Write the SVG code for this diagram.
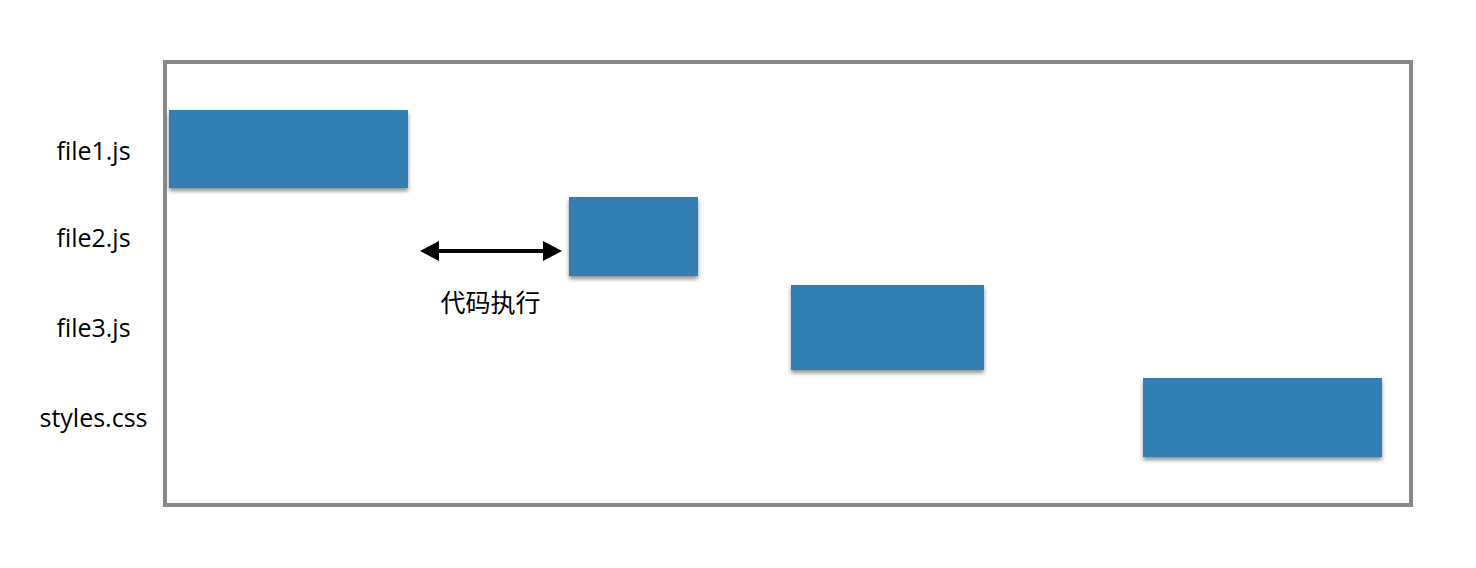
<svg xmlns="http://www.w3.org/2000/svg" width="1476" height="568" viewBox="0 0 1476 568">
<style>
.lbl{font-family:"Open Sans","Noto Sans","Noto Sans CJK SC",sans-serif;font-size:25px;fill:#000;text-anchor:middle}
.bar{fill:#337fb4;filter:url(#sh)}
</style>
<defs>
<filter id="sh" x="-10%" y="-20%" width="120%" height="150%">
<feGaussianBlur in="SourceAlpha" stdDeviation="2"/>
<feOffset dx="0" dy="3" result="b"/>
<feComponentTransfer><feFuncA type="linear" slope="0.45"/></feComponentTransfer>
<feMerge><feMergeNode/><feMergeNode in="SourceGraphic"/></feMerge>
</filter>
</defs>
<rect width="1476" height="568" fill="#fff"/>
<g id="frame"><rect x="165" y="62" width="1246" height="443" fill="none" stroke="#88898d" stroke-width="4"/></g>
<g id="labels">
<text class="lbl" x="93.5" y="160">file1.js</text>
<text class="lbl" x="93.5" y="247">file2.js</text>
<text class="lbl" x="93.5" y="337">file3.js</text>
<text class="lbl" x="93.5" y="427">styles.css</text>
</g>
<g id="file1"><rect class="bar" x="169" y="110" width="239" height="78"/></g>
<g id="file2"><rect class="bar" x="569" y="197" width="129" height="79"/></g>
<g id="file3"><rect class="bar" x="791" y="285" width="193" height="85"/></g>
<g id="styles"><rect class="bar" x="1143" y="378" width="239" height="79"/></g>
<g id="connectors">
<line x1="436" y1="251" x2="546" y2="251" stroke="#000" stroke-width="4"/>
<polygon points="420,251 439,241 439,261" fill="#000"/>
<polygon points="562,251 543,241 543,261" fill="#000"/>
</g>
<g id="exec-label"><text class="lbl" x="490.5" y="312" style="font-family:'Noto Sans CJK SC',sans-serif">代码执行</text></g>
</svg>
